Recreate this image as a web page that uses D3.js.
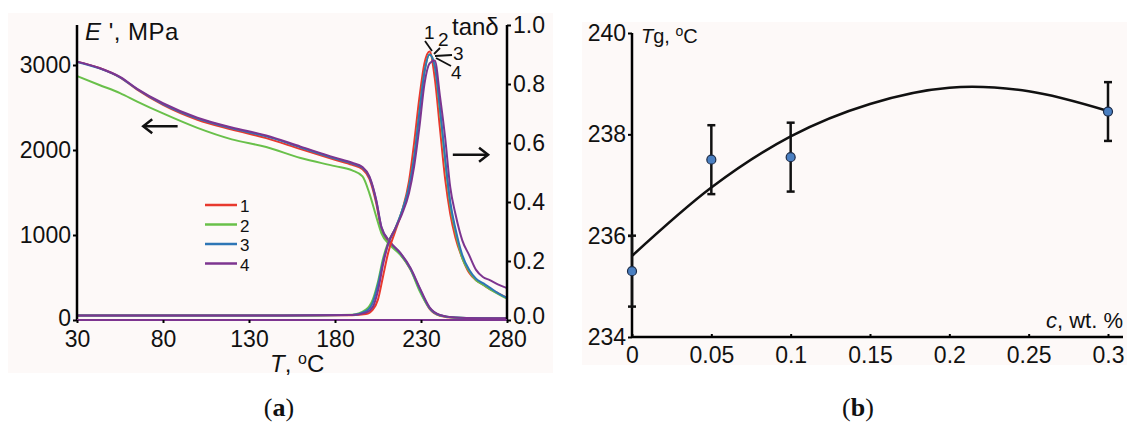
<!DOCTYPE html>
<html>
<head>
<meta charset="utf-8">
<script src="https://cdn.jsdelivr.net/npm/d3@7"></script>
<style>
  body { margin: 0; background: #fff; }
  svg text { font-family: "Liberation Sans", Arial, sans-serif; fill: #111; }
</style>
</head>
<body>
<svg id="fig" width="1132" height="426"></svg>
<script>
// ---- data, panel (a): storage modulus E' ----
const tempE = [30, 43, 55, 65, 80, 100, 120, 140, 160, 180, 190, 196, 200, 204, 207, 212, 218, 224, 229, 235, 241, 250, 265, 280]
const modulus1 = [3040, 2965, 2855, 2710, 2530, 2355, 2240, 2140, 2010, 1885, 1825, 1775, 1660, 1370, 1060, 900, 775, 590, 370, 130, 50, 25, 20, 18]
const modulus2 = [2870, 2765, 2670, 2570, 2430, 2260, 2125, 2035, 1905, 1810, 1760, 1690, 1490, 1215, 1020, 880, 765, 590, 350, 140, 55, 28, 20, 18]
const modulus3 = [3035, 2960, 2855, 2715, 2540, 2370, 2255, 2160, 2030, 1900, 1840, 1790, 1680, 1400, 1090, 915, 785, 600, 380, 140, 55, 28, 20, 18]
const modulus4 = [3040, 2965, 2860, 2720, 2550, 2380, 2265, 2170, 2040, 1910, 1850, 1800, 1690, 1410, 1095, 920, 790, 610, 390, 150, 60, 30, 22, 20]

// ---- data, panel (a): loss tangent ----
const tempTan = [30, 100, 150, 190, 198, 202, 205, 208, 211, 215, 219, 223, 226, 229, 232, 235, 238, 241, 244, 247, 250, 254, 258, 262, 266, 270, 275, 280]
const tan1 = [0.015, 0.015, 0.015, 0.016, 0.02, 0.035, 0.07, 0.15, 0.23, 0.30, 0.37, 0.47, 0.60, 0.75, 0.87, 0.91, 0.82, 0.65, 0.48, 0.36, 0.28, 0.21, 0.16, 0.135, 0.12, 0.105, 0.09, 0.075]
const tan2 = [0.015, 0.015, 0.015, 0.018, 0.035, 0.07, 0.13, 0.21, 0.265, 0.31, 0.37, 0.45, 0.55, 0.70, 0.84, 0.90, 0.86, 0.71, 0.54, 0.39, 0.30, 0.21, 0.165, 0.135, 0.12, 0.105, 0.088, 0.072]
const tan3 = [0.015, 0.015, 0.015, 0.017, 0.03, 0.06, 0.12, 0.20, 0.26, 0.31, 0.37, 0.45, 0.55, 0.70, 0.84, 0.90, 0.86, 0.72, 0.55, 0.40, 0.31, 0.22, 0.17, 0.14, 0.125, 0.11, 0.09, 0.075]
const tan4 = [0.015, 0.015, 0.015, 0.017, 0.025, 0.045, 0.10, 0.19, 0.26, 0.31, 0.36, 0.43, 0.52, 0.65, 0.80, 0.87, 0.88, 0.76, 0.62, 0.45, 0.36, 0.27, 0.22, 0.17, 0.146, 0.135, 0.12, 0.108]

const seriesNames = ["1", "2", "3", "4"]
const seriesColors = ["#e8392e", "#69c04a", "#2e76b6", "#7d3590"]
const tempTicks = [30, 80, 130, 180, 230, 280]
const modulusTicks = [0, 1000, 2000, 3000]
const tanTicks = [0, 0.2, 0.4, 0.6, 0.8, 1.0]

// ---- data, panel (b): glass transition vs concentration ----
const conc = [0, 0.05, 0.1, 0.3]
const tg = [235.3, 237.5, 237.55, 238.45]
const tgErr = [0.7, 0.68, 0.68, 0.58]
const fitConc = [0, 0.05, 0.1, 0.15, 0.2, 0.25, 0.3]
const fitTg = [235.6, 236.95, 237.96, 238.6, 238.92, 238.85, 238.46]
const concTicks = [0, 0.05, 0.1, 0.15, 0.2, 0.25, 0.3]
const tgTicks = [234, 236, 238, 240]

const svg = d3.select("#fig")
const bg = "#fdf9f8"
const tickFont = 23

// =================== panel (a) ===================
svg.append("rect").attr("x", 8).attr("y", 13).attr("width", 545).attr("height", 360).attr("fill", bg)

let xA = d3.scaleLinear().domain([30, 280]).range([77, 507])
let yE = d3.scaleLinear().domain([0, 3000]).range([320, 65])
let yTan = d3.scaleLinear().domain([0, 1]).range([320, 25])

let modulusSeries = [modulus1, modulus2, modulus3, modulus4]
let tanSeries = [tan1, tan2, tan3, tan4]

let lineE = d3.line().x(d => xA(d[0])).y(d => yE(d[1])).curve(d3.curveMonotoneX)
let lineTan = d3.line().x(d => xA(d[0])).y(d => yTan(d[1])).curve(d3.curveMonotoneX)

let gA = svg.append("g")

// curves (4 drawn last, on top)
modulusSeries.forEach((s, i) => {
  gA.append("path")
    .datum(tempE.map((t, j) => [t, s[j]]))
    .attr("d", lineE)
    .attr("fill", "none")
    .attr("stroke", seriesColors[i])
    .attr("stroke-width", 2)
})
tanSeries.forEach((s, i) => {
  gA.append("path")
    .datum(tempTan.map((t, j) => [t, s[j]]))
    .attr("d", lineTan)
    .attr("fill", "none")
    .attr("stroke", seriesColors[i])
    .attr("stroke-width", 2)
})

// left axis
let axE = gA.append("g")
  .attr("transform", "translate(77,0)")
  .call(d3.axisLeft(yE).tickValues(modulusTicks).tickSize(4).tickPadding(2).tickFormat(d3.format("d")))
axE.select(".domain").attr("d", "M0," + yE(0) + "V25").attr("stroke-width", 2.5)
axE.selectAll(".tick line").attr("stroke-width", 2)
axE.selectAll(".tick text").attr("font-size", tickFont).attr("fill", "#111")
axE.selectAll(".tick text").filter(d => d === 0).attr("dy", "0.22em")

// right axis
let axT = gA.append("g")
  .attr("transform", "translate(507,0)")
  .call(d3.axisRight(yTan).tickValues(tanTicks).tickSize(4).tickPadding(2).tickFormat(d3.format(".1f")))
axT.select(".domain").attr("d", "M0," + yTan(0) + "V25").attr("stroke-width", 2.5)
axT.selectAll(".tick line").attr("stroke-width", 2)
axT.selectAll(".tick text").attr("font-size", tickFont).attr("fill", "#111")
axT.selectAll(".tick text").filter(d => d === 0).attr("dy", "0.15em")

// bottom axis (the original shows a violet trace lying on it)
let axX = gA.append("g")
  .attr("transform", "translate(0,320)")
  .call(d3.axisBottom(xA).tickValues(tempTicks).tickSize(3).tickPadding(8))
axX.select(".domain").attr("d", "M77,0H507").attr("stroke", "#7d3590").attr("stroke-width", 2)
axX.selectAll(".tick line").attr("stroke-width", 2)
axX.selectAll(".tick text").attr("font-size", tickFont).attr("fill", "#111")

// axis titles
let tE = gA.append("text").attr("x", 85).attr("y", 40).attr("font-size", 24).attr("letter-spacing", 0.5)
tE.append("tspan").attr("font-style", "italic").text("E")
tE.append("tspan").text(" ', MPa")

gA.append("text").attr("x", 452).attr("y", 35).attr("font-size", 24).text("tanδ")

let tT = gA.append("text").attr("x", 270).attr("y", 372).attr("font-size", 24)
tT.append("tspan").attr("font-style", "italic").text("T")
tT.append("tspan").text(", ")
tT.append("tspan").attr("font-size", 16).attr("dy", -8).text("o")
tT.append("tspan").attr("dy", 8).text("C")

// legend
seriesNames.forEach((n, i) => {
  let ly = 205 + i * 19.5
  gA.append("line").attr("x1", 205).attr("x2", 237).attr("y1", ly).attr("y2", ly)
    .attr("stroke", seriesColors[i]).attr("stroke-width", 2.5)
  gA.append("text").attr("x", 240).attr("y", ly + 7).attr("font-size", 17).text(n)
})

// direction arrows
function arrow(x1, x2, y, dir) {
  gA.append("line").attr("x1", x1).attr("x2", x2).attr("y1", y).attr("y2", y)
    .attr("stroke", "#111").attr("stroke-width", 2.5)
  let tip = dir < 0 ? x1 : x2
  gA.append("path")
    .attr("d", "M" + (tip - dir * 9) + "," + (y - 7) + "L" + tip + "," + y + "L" + (tip - dir * 9) + "," + (y + 7))
    .attr("fill", "none").attr("stroke", "#111").attr("stroke-width", 2.5)
}
arrow(xA(68.5), xA(88.5), yE(2280), -1)
arrow(xA(248.5), xA(269), yTan(0.56), 1)

// peak labels with leader lines
const peakLabels = [
  { t: "1", x: 424, y: 39, lx1: 425, ly1: 41, lx2: 432, ly2: 51 },
  { t: "2", x: 438, y: 46, lx1: 440, ly1: 48, lx2: 434, ly2: 54 },
  { t: "3", x: 453, y: 60, lx1: 452, ly1: 55, lx2: 435, ly2: 56 },
  { t: "4", x: 451, y: 79, lx1: 451, ly1: 66, lx2: 436, ly2: 58 }
]
peakLabels.forEach(p => {
  gA.append("line").attr("x1", p.lx1).attr("y1", p.ly1).attr("x2", p.lx2).attr("y2", p.ly2)
    .attr("stroke", "#111").attr("stroke-width", 1.8)
  gA.append("text").attr("x", p.x).attr("y", p.y).attr("font-size", 19).text(p.t)
})

// =================== panel (b) ===================
svg.append("rect").attr("x", 582).attr("y", 22).attr("width", 545).attr("height", 343).attr("fill", bg)

let xB = d3.scaleLinear().domain([0, 0.3]).range([632, 1108])
let yB = d3.scaleLinear().domain([234, 240]).range([337, 33])
let gB = svg.append("g")

// fitted trend
gB.append("path")
  .datum(fitConc.map((c, i) => [c, fitTg[i]]))
  .attr("d", d3.line().x(d => xB(d[0])).y(d => yB(d[1])).curve(d3.curveCardinal))
  .attr("fill", "none").attr("stroke", "#111").attr("stroke-width", 2.5)

// axes
let axBx = gB.append("g")
  .attr("transform", "translate(0," + yB(234) + ")")
  .call(d3.axisBottom(xB).tickValues(concTicks).tickSize(-3).tickPadding(10).tickFormat(d => String(d)))
axBx.select(".domain").attr("d", "M632,0H1123").attr("stroke-width", 2.5)
axBx.selectAll(".tick line").attr("stroke-width", 2)
axBx.selectAll(".tick text").attr("font-size", tickFont).attr("fill", "#111")

let axBy = gB.append("g")
  .attr("transform", "translate(632,0)")
  .call(d3.axisLeft(yB).tickValues(tgTicks).tickSize(4).tickPadding(2).tickFormat(d3.format("d")))
axBy.select(".domain").attr("d", "M0," + yB(234) + "V" + yB(240)).attr("stroke-width", 2.5)
axBy.selectAll(".tick line").attr("stroke-width", 2)
axBy.selectAll(".tick text").attr("font-size", tickFont).attr("fill", "#111")

// error bars
conc.forEach((c, i) => {
  let cx = xB(c)
  gB.append("line").attr("x1", cx).attr("x2", cx).attr("y1", yB(tg[i] - tgErr[i])).attr("y2", yB(tg[i] + tgErr[i]))
    .attr("stroke", "#111").attr("stroke-width", 2.5)
  ;[tg[i] - tgErr[i], tg[i] + tgErr[i]].forEach(v => {
    gB.append("line").attr("x1", cx - 4).attr("x2", cx + 4).attr("y1", yB(v)).attr("y2", yB(v))
      .attr("stroke", "#111").attr("stroke-width", 2.5)
  })
})
gB.selectAll(".pt").data(conc).enter().append("circle")
  .attr("class", "pt")
  .attr("cx", d => xB(d))
  .attr("cy", (d, i) => yB(tg[i]))
  .attr("r", 4.5)
  .attr("fill", "#4a7fc1")
  .attr("stroke", "#1c2c48")
  .attr("stroke-width", 1.2)

// titles
let tTg = gB.append("text").attr("x", 641).attr("y", 43).attr("font-size", 20)
tTg.append("tspan").attr("font-style", "italic").text("T")
tTg.append("tspan").text("g, ")
tTg.append("tspan").attr("font-size", 14).attr("dy", -7).text("o")
tTg.append("tspan").attr("dy", 7).text("C")

let tC = gB.append("text").attr("x", 1123).attr("y", 328).attr("font-size", 22).attr("text-anchor", "end")
tC.append("tspan").attr("font-style", "italic").text("c")
tC.append("tspan").text(", wt. %")

// panel captions
function caption(x, letter) {
  let t = svg.append("text").attr("x", x).attr("y", 416).attr("text-anchor", "middle")
    .attr("font-size", 26).style("font-family", "'Liberation Serif', 'DejaVu Serif', serif")
  t.append("tspan").text("(")
  t.append("tspan").attr("font-weight", "bold").text(letter)
  t.append("tspan").text(")")
}
caption(279, "a")
caption(858, "b")
</script>
</body>
</html>
